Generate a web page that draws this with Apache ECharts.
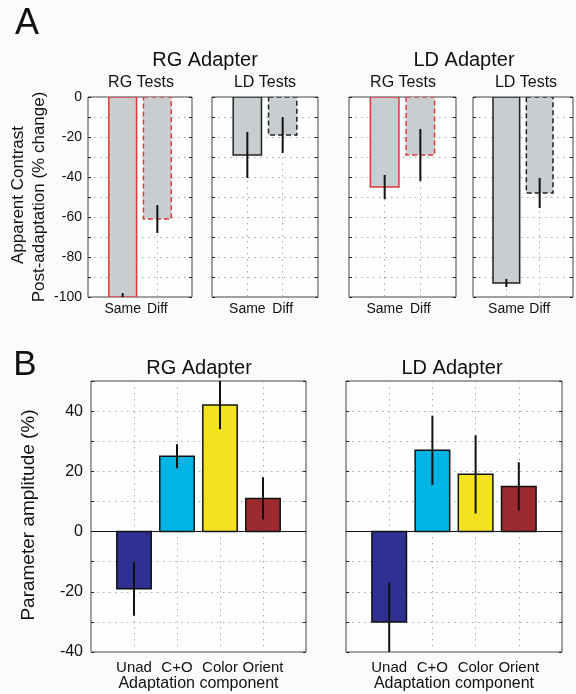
<!DOCTYPE html>
<html>
<head>
<meta charset="utf-8">
<script src="https://cdn.jsdelivr.net/npm/echarts@6/dist/echarts.min.js"></script>
<style>
  html, body { margin: 0; padding: 0; background: #fafbfb; }
  #chart { width: 576px; height: 694px; }
</style>
</head>
<body>
<div id="chart"></div>
<script>
// panel A: apparent contrast change after adaptation
const testLabels = ['Same', 'Diff'];
const rgAdaptRgTests = [-100, -61];
const rgAdaptRgTestsErr = [2, 7];
const rgAdaptLdTests = [-29, -19];
const rgAdaptLdTestsErr = [11.5, 9];
const ldAdaptRgTests = [-45, -29];
const ldAdaptRgTestsErr = [6, 13];
const ldAdaptLdTests = [-93, -48];
const ldAdaptLdTestsErr = [2, 7.5];
const yTicksA = [0, -20, -40, -60, -80, -100];

// panel B: parameter amplitude per component
const components = ['Unad', 'C+O', 'Color', 'Orient'];
const rgAmplitude = [-19, 25, 42, 11];
const rgAmplitudeErr = [9, 4, 8, 7];
const ldAmplitude = [-30, 27, 19, 15];
const ldAmplitudeErr = [13, 11.5, 13, 8];
const yTicksB = [40, 20, 0, -20, -40];

const compColors = ['#2e3192', '#00b5e6', '#f3e21f', '#9b2b2f'];
const FONT = '"Liberation Sans", Arial, Helvetica, sans-serif';

const chart = echarts.init(document.getElementById('chart'));

const gridsA = [
  { left: 88, top: 97, width: 104, height: 200 },
  { left: 212, top: 97, width: 106, height: 200 },
  { left: 349, top: 97, width: 107, height: 200 },
  { left: 473, top: 97, width: 106, height: 200 },
];
const gridsB = [
  { left: 91, top: 381, width: 215, height: 271 },
  { left: 346, top: 381, width: 216, height: 271 },
];

const grids = gridsA.concat(gridsB).map(g => ({
  ...g,
  show: true,
  backgroundColor: '#fdfefe',
  borderColor: '#444',
  borderWidth: 1,
}));

const dotted = { show: true, lineStyle: { color: '#a4a8a8', type: [1.5, 4.5], width: 1 } };

const xAxes = [];
const yAxes = [];

gridsA.forEach((g, i) => {
  xAxes.push({
    type: 'value', gridIndex: i, min: 0, max: 3, interval: 1,
    axisLine: { show: false },
    axisTick: { show: false },
    splitLine: dotted,
    axisLabel: {
      margin: 5, color: '#111', fontSize: 14, fontFamily: FONT,
      formatter: v => testLabels[v - 1] || '',
    },
  });
  yAxes.push({
    type: 'value', gridIndex: i, min: -100, max: 0, interval: 10,
    axisLine: { show: false },
    axisTick: { show: true, inside: true, length: 3, lineStyle: { color: '#222' } },
    splitLine: dotted,
    axisLabel: {
      show: i === 0, margin: 6, color: '#111', fontSize: 14, fontFamily: FONT,
      formatter: v => (yTicksA.includes(v) ? String(v) : ''),
    },
  });
  yAxes.push({
    type: 'value', gridIndex: i, position: 'right', min: -100, max: 0, interval: 10,
    axisLine: { show: false },
    axisTick: { show: true, inside: true, length: 3, lineStyle: { color: '#222' } },
    splitLine: { show: false }, axisLabel: { show: false },
  });
});

gridsB.forEach((g, j) => {
  const i = j + 4;
  xAxes.push({
    type: 'value', gridIndex: i, min: 0, max: 5, interval: 1,
    axisLine: { show: false },
    axisTick: { show: false },
    splitLine: dotted,
    axisLabel: {
      margin: 8, color: '#111', fontSize: 15, fontFamily: FONT,
      formatter: v => components[v - 1] || '',
    },
    name: 'Adaptation component',
    nameLocation: 'middle',
    nameGap: 24,
    nameTextStyle: { color: '#111', fontSize: 16, fontFamily: FONT },
  });
  yAxes.push({
    type: 'value', gridIndex: i, min: -40, max: 50, interval: 10,
    axisLine: { show: false },
    axisTick: { show: true, inside: true, length: 3, lineStyle: { color: '#222' } },
    splitLine: dotted,
    axisLabel: {
      show: j === 0, margin: 8, color: '#111', fontSize: 16, fontFamily: FONT,
      formatter: v => (yTicksB.includes(v) ? String(v) : ''),
    },
  });
  yAxes.push({
    type: 'value', gridIndex: i, position: 'right', min: -40, max: 50, interval: 10,
    axisLine: { show: false },
    axisTick: { show: true, inside: true, length: 3, lineStyle: { color: '#222' } },
    splitLine: { show: false }, axisLabel: { show: false },
  });
});

// bar with error line, drawn through the axis scales
function renderBar(params, api) {
  const x = api.value(0);
  const v = api.value(1);
  const e = api.value(2);
  const k = api.value(3);
  const st = params.context.barStyle[k];
  const a = api.coord([x - 0.4, 0]);
  const b = api.coord([x + 0.4, v]);
  const c = api.coord([x, v - e]);
  const d = api.coord([x, v + e]);
  return {
    type: 'group',
    children: [
      {
        type: 'rect',
        shape: { x: a[0], y: Math.min(a[1], b[1]), width: b[0] - a[0], height: Math.abs(b[1] - a[1]) },
        style: { fill: st.fill, stroke: st.stroke, lineWidth: 1.5, lineDash: st.dash },
      },
      {
        type: 'line',
        shape: { x1: c[0], y1: c[1], x2: d[0], y2: d[1] },
        style: { stroke: '#111', lineWidth: 2 },
      },
    ],
  };
}

function barSeries(idx, values, errs, styles, zeroLine) {
  const s = {
    type: 'custom',
    xAxisIndex: idx,
    yAxisIndex: idx * 2,
    clip: true,
    data: values.map((v, i) => [i + 1, v, errs[i], i]),
    renderItem: (params, api) => {
      params.context.barStyle = styles;
      return renderBar(params, api);
    },
    silent: true,
  };
  if (zeroLine) {
    s.markLine = {
      silent: true, symbol: 'none', label: { show: false },
      lineStyle: { color: '#111', type: 'solid', width: 1.2 },
      data: [{ yAxis: 0 }],
    };
  }
  return s;
}

const GREY = '#c9cdcf';
const redStyles = [
  { fill: GREY, stroke: '#e0353b', dash: null },
  { fill: GREY, stroke: '#e0353b', dash: [5, 3] },
];
const blackStyles = [
  { fill: GREY, stroke: '#222', dash: null },
  { fill: GREY, stroke: '#222', dash: [5, 3] },
];
const compStyles = compColors.map(c => ({ fill: c, stroke: '#111', dash: null }));

const series = [
  barSeries(0, rgAdaptRgTests, rgAdaptRgTestsErr, redStyles),
  barSeries(1, rgAdaptLdTests, rgAdaptLdTestsErr, blackStyles),
  barSeries(2, ldAdaptRgTests, ldAdaptRgTestsErr, redStyles),
  barSeries(3, ldAdaptLdTests, ldAdaptLdTestsErr, blackStyles),
  barSeries(4, rgAmplitude, rgAmplitudeErr, compStyles, true),
  barSeries(5, ldAmplitude, ldAmplitudeErr, compStyles, true),
];

function txt(text, x, y, size, rot) {
  return {
    type: 'text', x, y, rotation: rot || 0, silent: true,
    style: {
      text, fill: '#111', font: size + 'px ' + FONT,
      align: 'center', verticalAlign: 'middle',
      textAlign: 'center', textVerticalAlign: 'middle',
    },
  };
}

const graphic = [
  txt('A', 27, 24, 36),
  txt('RG Adapter', 205, 60, 20),
  txt('LD Adapter', 464, 60, 20),
  txt('RG Tests', 141, 83, 16),
  txt('LD Tests', 265, 83, 16),
  txt('RG Tests', 403, 83, 16),
  txt('LD Tests', 526, 83, 16),
  txt('Apparent Contrast', 18, 195, 17, Math.PI / 2),
  txt('Post-adaptation (% change)', 39, 197, 17, Math.PI / 2),
  txt('B', 25, 365, 35),
  txt('RG Adapter', 199, 368, 20),
  txt('LD Adapter', 452, 368, 20),
  txt('Parameter amplitude (%)', 29, 515, 19, Math.PI / 2),
];

chart.setOption({
  backgroundColor: '#fafbfb',
  animation: false,
  grid: grids,
  xAxis: xAxes,
  yAxis: yAxes,
  series,
  graphic,
});
</script>
</body>
</html>
